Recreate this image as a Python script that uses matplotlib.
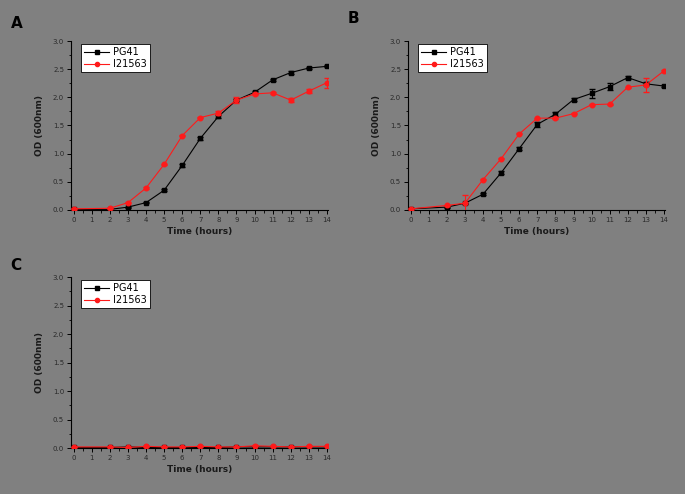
import numpy as np
import matplotlib
matplotlib.use('Agg')
import matplotlib.pyplot as plt
from matplotlib.ticker import MultipleLocator

# time points (hours); no sample at 1 h
hours = [0, 2, 3, 4, 5, 6, 7, 8, 9, 10, 11, 12, 13, 14]

# panel A
a_pg41 = [0.01, 0.01, 0.05, 0.13, 0.35, 0.79, 1.27, 1.66, 1.95, 2.09, 2.31, 2.44, 2.52, 2.55]
a_pg41_err = [0.01, 0.01, 0.01, 0.01, 0.02, 0.02, 0.02, 0.02, 0.02, 0.02, 0.02, 0.02, 0.02, 0.02]
a_i21563 = [0.02, 0.03, 0.13, 0.39, 0.81, 1.32, 1.64, 1.72, 1.95, 2.06, 2.08, 1.95, 2.11, 2.26]
a_i21563_err = [0.01, 0.01, 0.01, 0.01, 0.01, 0.01, 0.01, 0.03, 0.05, 0.02, 0.02, 0.04, 0.03, 0.09]

# panel B
b_pg41 = [0.02, 0.05, 0.12, 0.28, 0.66, 1.09, 1.52, 1.70, 1.96, 2.07, 2.19, 2.35, 2.24, 2.20]
b_pg41_err = [0.01, 0.01, 0.01, 0.02, 0.03, 0.02, 0.05, 0.04, 0.02, 0.08, 0.06, 0.02, 0.03, 0.02]
b_i21563 = [0.02, 0.08, 0.12, 0.54, 0.91, 1.35, 1.63, 1.63, 1.71, 1.87, 1.88, 2.18, 2.22, 2.47]
b_i21563_err = [0.01, 0.01, 0.15, 0.01, 0.01, 0.01, 0.01, 0.01, 0.01, 0.01, 0.01, 0.01, 0.12, 0.02]

# panel C
c_pg41 = [0.01, 0.01, 0.02, 0.01, 0.01, 0.01, 0.01, 0.01, 0.02, 0.02, 0.02, 0.02, 0.02, 0.02]
c_pg41_err = [0.005] * 14
c_i21563 = [0.02, 0.02, 0.01, 0.03, 0.02, 0.02, 0.03, 0.02, 0.02, 0.04, 0.03, 0.02, 0.03, 0.03]
c_i21563_err = [0.005] * 14

BG = '#808080'
TXT = '#1a1a1a'
RED = '#ff1a1a'

fig = plt.figure(figsize=(6.85, 4.94), dpi=100, facecolor=BG)


def draw_panel(rect, letter, letter_y, pg41, pg41_err, i21563, i21563_err):
    ax = fig.add_axes(rect, facecolor=BG)
    ax.errorbar(hours, pg41, yerr=pg41_err, color='black', marker='s', ms=3.3,
                lw=0.8, elinewidth=0.8, capsize=2, zorder=3)
    ax.errorbar(hours, i21563, yerr=i21563_err, color=RED, marker='o', ms=3.3,
                lw=0.8, elinewidth=0.8, capsize=2, zorder=4)
    # legend handles: plain line + marker, no error bars
    h1, = ax.plot([], [], color='black', marker='s', ms=3, lw=0.8, label='PG41')
    h2, = ax.plot([], [], color=RED, marker='o', ms=3, lw=0.8, label='I21563')
    ax.set_xlim(-0.15, 14.05)
    ax.set_ylim(0, 3.0)
    ax.xaxis.set_major_locator(MultipleLocator(1))
    ax.xaxis.set_minor_locator(MultipleLocator(0.5))
    ax.yaxis.set_major_locator(MultipleLocator(0.5))
    ax.yaxis.set_minor_locator(MultipleLocator(0.25))
    ax.yaxis.set_major_formatter(matplotlib.ticker.FormatStrFormatter('%.1f'))
    for s in ['top', 'right']:
        ax.spines[s].set_visible(False)
    for s in ['left', 'bottom']:
        ax.spines[s].set_color('black')
        ax.spines[s].set_linewidth(0.8)
    ax.tick_params(which='major', length=3, width=0.7, labelsize=5, colors='black',
                   labelcolor='#2a2a2a', pad=2)
    ax.tick_params(which='minor', length=1.8, width=0.6, colors='black')
    ax.set_xlabel('Time (hours)', fontsize=6.5, fontweight='bold', color=TXT, labelpad=3)
    ax.set_ylabel('OD (600nm)', fontsize=6.5, fontweight='bold', color=TXT, labelpad=6)
    leg = ax.legend(handles=[h1, h2], loc='upper left', bbox_to_anchor=(0.02, 1.01),
                    fontsize=7, frameon=True, fancybox=False, edgecolor='black',
                    framealpha=1, handlelength=2.6, borderpad=0.3, labelspacing=0.2,
                    handletextpad=0.4)
    leg.get_frame().set_linewidth(0.6)
    fig.text(rect[0] - 0.088, letter_y, letter, fontsize=11,
             fontweight='bold', color='black', ha='left', va='center')
    return ax


draw_panel([0.1036, 0.575, 0.375, 0.342], 'A', 0.953, a_pg41, a_pg41_err, a_i21563, a_i21563_err)
draw_panel([0.5956, 0.575, 0.375, 0.342], 'B', 0.962, b_pg41, b_pg41_err, b_i21563, b_i21563_err)
draw_panel([0.1036, 0.093, 0.375, 0.346], 'C', 0.463, c_pg41, c_pg41_err, c_i21563, c_i21563_err)

fig.savefig('out.png', dpi=100, facecolor=BG)
